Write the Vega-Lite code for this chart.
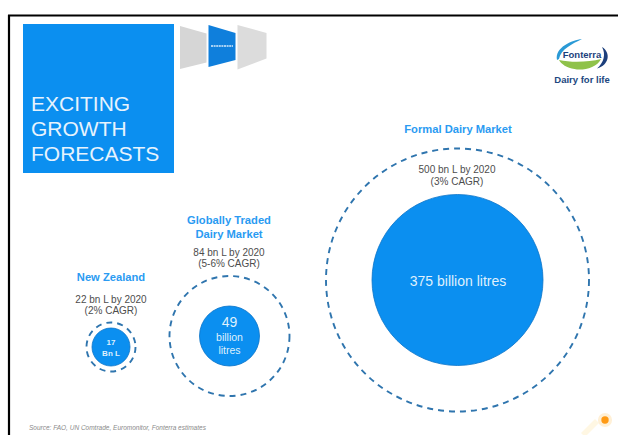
{
  "$schema": "https://vega.github.io/schema/vega-lite/v6.json",
  "width": 618,
  "height": 435,
  "padding": 0,
  "autosize": {"type": "none"},
  "background": "#ffffff",
  "view": {"stroke": null},
  "resolve": {"scale": {"size": "independent"}},
  "datasets": {
    "markets": [
      {"market": "New Zealand", "px": 111, "py": 347, "now": 17, "forecast": 22},
      {"market": "Globally Traded Dairy Market", "px": 229.5, "py": 336, "now": 49, "forecast": 84},
      {"market": "Formal Dairy Market", "px": 457.5, "py": 280, "now": 375, "forecast": 500}
    ],
    "frame": [
      {"edge": "left", "px": 9, "px2": 9, "py": 15, "py2": 435},
      {"edge": "top", "px": 8, "px2": 618, "py": 15.5, "py2": 15.5}
    ],
    "panel": [{"name": "title panel", "px": 23, "px2": 174, "py": 24, "py2": 173}],
    "titleLines": [
      {"px": 31, "py": 111, "label": "EXCITING"},
      {"px": 31, "py": 136, "label": "GROWTH"},
      {"px": 31, "py": 161, "label": "FORECASTS"}
    ],
    "headings": [
      {"px": 458, "py": 133, "label": "Formal Dairy Market"},
      {"px": 229, "py": 224, "label": "Globally Traded"},
      {"px": 229, "py": 238, "label": "Dairy Market"},
      {"px": 111, "py": 281, "label": "New Zealand"}
    ],
    "forecasts": [
      {"px": 457, "py": 173, "label": "500 bn L by 2020"},
      {"px": 457, "py": 185, "label": "(3% CAGR)"},
      {"px": 229, "py": 256, "label": "84 bn L by 2020"},
      {"px": 229, "py": 267, "label": "(5-6% CAGR)"},
      {"px": 111, "py": 303, "label": "22 bn L by 2020"},
      {"px": 111, "py": 314, "label": "(2% CAGR)"}
    ],
    "bigLabels": [
      {"px": 458, "py": 286, "label": "375 billion litres"},
      {"px": 229.5, "py": 327, "label": "49"}
    ],
    "midLabels": [
      {"px": 229.5, "py": 341, "label": "billion"},
      {"px": 229.5, "py": 354, "label": "litres"}
    ],
    "smallLabels": [
      {"px": 111, "py": 345, "label": "17"},
      {"px": 111, "py": 356, "label": "Bn L"}
    ],
    "source": [{"px": 29, "py": 430, "label": "Source: FAO, UN Comtrade, Euromonitor, Fonterra estimates"}],
    "nav": [{"name": "left", "px": 193, "py": 47}, {"name": "active", "px": 222, "py": 46}, {"name": "right", "px": 252, "py": 47}],
    "logo": [{"name": "Fonterra", "px": 582, "py": 55}],
    "sun": [{"name": "sun", "px": 605, "py": 420}],
    "glow": [{"name": "streak", "px": 590, "py": 428}]
  },
  "encoding": {
    "x": {"field": "px", "type": "quantitative", "scale": {"domain": [0, 618], "nice": false, "zero": false}, "axis": null},
    "y": {"field": "py", "type": "quantitative", "scale": {"domain": [0, 435], "reverse": true, "nice": false, "zero": false}, "axis": null}
  },
  "layer": [
    {
      "data": {"name": "panel"},
      "mark": {"type": "rect", "color": "#0b8ff0"},
      "encoding": {"x2": {"field": "px2"}, "y2": {"field": "py2"}}
    },
    {
      "data": {"name": "frame"},
      "mark": {"type": "rule", "color": "#000000", "strokeWidth": 2.2},
      "encoding": {"x2": {"field": "px2"}, "y2": {"field": "py2"}}
    },
    {
      "data": {"name": "titleLines"},
      "mark": {"type": "text", "align": "left", "baseline": "alphabetic", "font": "Liberation Sans", "fontSize": 21, "color": "#e6f3fd"},
      "encoding": {"text": {"field": "label"}}
    },
    {
      "data": {"name": "nav"},
      "transform": [{"filter": "datum.name === 'left'"}],
      "mark": {"type": "point", "filled": true, "size": 2500, "color": "#d6d6d6", "opacity": 1, "shape": "M-0.52,-0.84 L0.54,-0.54 L0.54,0.62 L-0.52,0.88 Z"}
    },
    {
      "data": {"name": "nav"},
      "transform": [{"filter": "datum.name === 'active'"}],
      "mark": {"type": "point", "filled": true, "size": 2500, "color": "#0f7fdc", "opacity": 1, "shape": "M-0.54,-0.84 L0.54,-0.52 L0.54,0.56 L-0.54,0.84 Z"}
    },
    {
      "data": {"name": "nav"},
      "transform": [{"filter": "datum.name === 'right'"}],
      "mark": {"type": "point", "filled": true, "size": 2500, "color": "#dcdcdc", "opacity": 1, "shape": "M-0.58,-0.88 L0.58,-0.56 L0.58,0.46 L-0.58,0.9 Z"}
    },
    {
      "data": {"name": "nav"},
      "transform": [{"filter": "datum.name === 'active'"}],
      "mark": {"type": "rule", "color": "#d8ecfb", "strokeWidth": 1.4, "strokeDash": [2, 0.6], "xOffset": -11, "x2Offset": 11},
      "encoding": {"x2": {"field": "px"}}
    },
    {
      "data": {"name": "logo"},
      "mark": {"type": "point", "filled": true, "size": 10000, "color": "#2a9ad6", "opacity": 1, "shape": "M-0.5,0.1 C-0.55,-0.15 -0.2,-0.3 0,-0.32 C-0.2,-0.22 -0.42,-0.12 -0.46,0.08 Z"}
    },
    {
      "data": {"name": "logo"},
      "mark": {"type": "point", "filled": true, "size": 10000, "color": "#1c3f7c", "opacity": 1, "shape": "M0.4,-0.16 C0.58,-0.05 0.55,0.2 0.3,0.27 C0.44,0.15 0.48,-0.02 0.4,-0.16 Z"}
    },
    {
      "data": {"name": "logo"},
      "mark": {"type": "point", "filled": true, "size": 10000, "color": "#8fc24a", "opacity": 1, "shape": "M-0.46,0.1 C-0.2,0.16 0.15,0.14 0.38,0.08 C0.3,0.26 0,0.32 -0.15,0.28 C-0.3,0.26 -0.42,0.18 -0.46,0.1 Z"}
    },
    {
      "data": {"name": "logo"},
      "mark": {"type": "text", "align": "center", "baseline": "alphabetic", "font": "Liberation Sans", "fontWeight": "bold", "fontSize": 9.5, "color": "#1c3f7c", "dy": 3},
      "encoding": {"text": {"field": "name"}}
    },
    {
      "data": {"name": "logo"},
      "mark": {"type": "text", "align": "center", "baseline": "alphabetic", "font": "Liberation Sans", "fontWeight": "bold", "fontSize": 9.5, "color": "#21477f", "dy": 28, "text": "Dairy for life"}
    },
    {
      "data": {"name": "markets"},
      "mark": {"type": "point", "filled": false, "opacity": 1, "color": "#2f75ae", "strokeWidth": 1.9, "strokeDash": [6, 5]},
      "encoding": {
        "size": {"field": "forecast", "type": "quantitative", "legend": null, "scale": {"domain": [22, 84, 500], "range": [2401, 14400, 69169]}}
      }
    },
    {
      "data": {"name": "markets"},
      "mark": {"type": "point", "filled": true, "opacity": 1, "fill": "#0b8ff0", "stroke": "#0b74c8", "strokeWidth": 0.8},
      "encoding": {
        "size": {"field": "now", "type": "quantitative", "legend": null, "scale": {"domain": [17, 49, 375], "range": [1444, 3600, 29241]}}
      }
    },
    {
      "data": {"name": "headings"},
      "mark": {"type": "text", "align": "center", "baseline": "alphabetic", "font": "Liberation Sans", "fontWeight": "bold", "fontSize": 11.2, "color": "#2a9bf2"},
      "encoding": {"text": {"field": "label"}}
    },
    {
      "data": {"name": "forecasts"},
      "mark": {"type": "text", "align": "center", "baseline": "alphabetic", "font": "Liberation Sans", "fontSize": 10, "color": "#4d4d4d"},
      "encoding": {"text": {"field": "label"}}
    },
    {
      "data": {"name": "bigLabels"},
      "mark": {"type": "text", "align": "center", "baseline": "alphabetic", "font": "Liberation Sans", "fontSize": 14, "color": "#dff0fd"},
      "encoding": {"text": {"field": "label"}}
    },
    {
      "data": {"name": "midLabels"},
      "mark": {"type": "text", "align": "center", "baseline": "alphabetic", "font": "Liberation Sans", "fontSize": 10.5, "color": "#dff0fd"},
      "encoding": {"text": {"field": "label"}}
    },
    {
      "data": {"name": "smallLabels"},
      "mark": {"type": "text", "align": "center", "baseline": "alphabetic", "font": "Liberation Sans", "fontWeight": "bold", "fontSize": 8, "color": "#dff0fd"},
      "encoding": {"text": {"field": "label"}}
    },
    {
      "data": {"name": "source"},
      "mark": {"type": "text", "align": "left", "baseline": "alphabetic", "font": "Liberation Sans", "fontStyle": "italic", "fontSize": 6.5, "color": "#8a8a8a"},
      "encoding": {"text": {"field": "label"}}
    },
    {
      "data": {"name": "glow"},
      "mark": {"type": "point", "filled": true, "size": 400, "color": "#fff7e3", "opacity": 1, "shape": "M-0.9,0.5 L0.5,-0.9 L0.9,-0.5 L-0.5,0.9 Z"}
    },
    {
      "data": {"name": "sun"},
      "mark": {"type": "point", "filled": true, "shape": "circle", "size": 200, "color": "#fff0d6", "opacity": 1}
    },
    {
      "data": {"name": "sun"},
      "mark": {"type": "point", "filled": true, "shape": "circle", "size": 55, "color": "#ff9a14", "opacity": 1}
    }
  ]
}
